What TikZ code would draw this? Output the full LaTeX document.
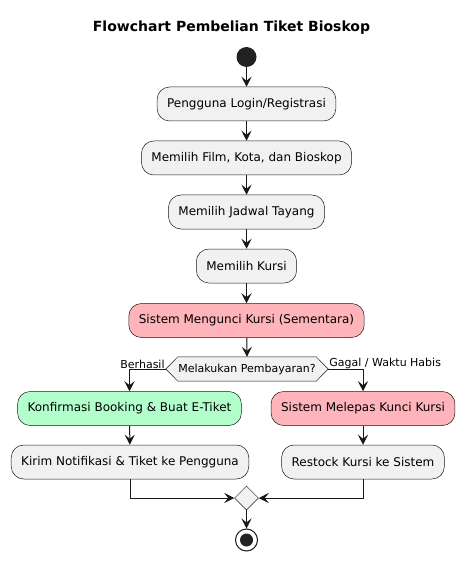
\documentclass[tikz,border=0pt]{standalone}
\usepackage{fontspec}
\setmainfont{DejaVu Sans}
\usetikzlibrary{arrows.meta,shapes.geometric}
\definecolor{boxfill}{HTML}{F1F1F1}
\definecolor{edge}{HTML}{181818}
\definecolor{dot}{HTML}{222222}
\definecolor{pinkfill}{HTML}{FFB3BA}
\definecolor{greenfill}{HTML}{B3FFCC}
\begin{document}
\begin{tikzpicture}[x=1pt,y=-1pt,
  act/.style={draw=edge, line width=0.5pt, fill=boxfill, rounded corners=12.5pt,
    minimum height=34pt, inner xsep=10pt, inner ysep=0pt, font=\fontsize{12}{14}\selectfont},
  flow/.style={draw=edge, line width=1pt, -{Stealth[length=10pt,width=10pt,inset=4pt]}},
  lbl/.style={font=\fontsize{11}{13}\selectfont, inner sep=1pt},
  dectext/.style={minimum height=24pt, minimum width=162pt, inner ysep=0pt, font=\fontsize{11}{13}\selectfont}]
\useasboundingbox (0,0) rectangle (465,561);
\fill[white] (0,0) rectangle (465,561);
\node[font=\bfseries\fontsize{14}{16}\selectfont] (title) at (231.5,28) {Flowchart Pembelian Tiket Bioskop};
\node[circle, fill=dot, minimum size=20pt, inner sep=0pt] (start) at (246.5,57) {};
\node[act] (a1) at (246.5,104) {Pengguna Login/Registrasi};
\node[act] (a2) at (246.5,158) {Memilih Film, Kota, dan Bioskop};
\node[act] (a3) at (246.5,212) {Memilih Jadwal Tayang};
\node[act] (a4) at (246.5,266) {Memilih Kursi};
\node[act, fill=pinkfill] (a5) at (246.5,320.5) {Sistem Mengunci Kursi (Sementara)};
\node[dectext] (dec) at (247,369) {};
\draw[edge, line width=0.5pt, fill=boxfill] (dec.west) -- ([xshift=12pt]dec.north west) -- ([xshift=-12pt]dec.north east) -- (dec.east) -- ([xshift=-12pt]dec.south east) -- ([xshift=12pt]dec.south west) -- cycle;
\node[dectext] (dect) at (dec) {Melakukan Pembayaran?};
\node[act, fill=greenfill] (k1) at (129.5,408.5) {Konfirmasi Booking \& Buat E-Tiket};
\node[act, fill=pinkfill] (r1) at (363,408.5) {Sistem Melepas Kunci Kursi};
\node[act] (k2) at (130,462) {Kirim Notifikasi \& Tiket ke Pengguna};
\node[act] (r2) at (363,462) {Restock Kursi ke Sistem};
\node[diamond, draw=edge, line width=0.5pt, fill=boxfill, minimum width=24pt, minimum height=24pt, inner sep=0pt] (m) at (246.5,498) {};
\node[circle, draw=edge, line width=1pt, fill=white, minimum size=22pt, inner sep=0pt] (end) at (246.5,540) {};
\node[circle, fill=dot, minimum size=13pt, inner sep=0pt] (endin) at (end.center) {};
\node[lbl, anchor=south east] (lb1) at ([yshift=-1pt]dec.west) {Berhasil};
\node[lbl, anchor=south west] (lb2) at ([yshift=-1pt]dec.east) {Gagal / Waktu Habis};
\draw[flow] (start) -- (a1);
\draw[flow] (a1) -- (a2);
\draw[flow] (a2) -- (a3);
\draw[flow] (a3) -- (a4);
\draw[flow] (a4) -- (a5);
\draw[flow] (a5) -- (dec.north);
\draw[flow] (dec.west) -| (k1.north);
\draw[flow] (dec.east) -| (r1.north);
\draw[flow] (k1) -- (k2);
\draw[flow] (r1) -- (r2);
\draw[flow] (k2.south) |- (m.west);
\draw[flow] (r2.south) |- (m.east);
\draw[flow] (m.south) -- (end.north);
\end{tikzpicture}
\end{document}
